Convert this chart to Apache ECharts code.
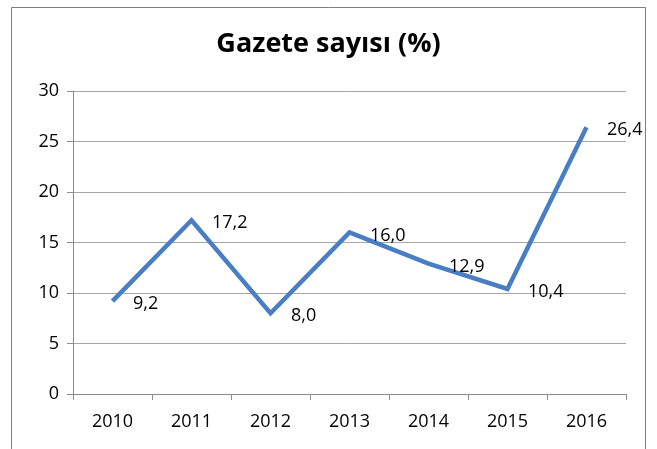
<!DOCTYPE html>
<html>
<head>
<meta charset="utf-8">
<script src="https://cdn.jsdelivr.net/npm/echarts@6/dist/echarts.min.js"></script>
<style>
  html, body { margin: 0; padding: 0; background: #fff; }
  #chart { width: 657px; height: 449px; }
</style>
</head>
<body>
<div id="chart"></div>
<script>
const years = ["2010", "2011", "2012", "2013", "2014", "2015", "2016"];
const values = [9.2, 17.2, 8.0, 16.0, 12.9, 10.4, 26.4];
const chartTitle = "Gazete sayısı (%)";

const chart = echarts.init(document.getElementById("chart"));
const font = "'Open Sans', 'DejaVu Sans', sans-serif";

chart.setOption({
  animation: false,
  textStyle: { fontFamily: font },
  graphic: [{
    type: "rect",
    shape: { x: 11.5, y: 7.5, width: 634, height: 460 },
    style: { fill: "none", stroke: "#7f7f7f", lineWidth: 1 },
    z: -1
  }],
  title: {
    text: chartTitle,
    left: "center",
    top: 26,
    textStyle: { fontFamily: font, fontSize: 27, fontWeight: "bold", color: "#000" }
  },
  grid: { left: 73, right: 31, top: 91, bottom: 55 },
  xAxis: {
    type: "category",
    data: years,
    boundaryGap: true,
    axisLine: { lineStyle: { color: "#8c8c8c", width: 1 } },
    axisTick: { show: true, length: 6, lineStyle: { color: "#8c8c8c" } },
    axisLabel: { fontFamily: font, fontSize: 18, color: "#000", margin: 19 }
  },
  yAxis: {
    type: "value",
    min: 0,
    max: 30,
    interval: 5,
    axisLine: { show: true, lineStyle: { color: "#8c8c8c", width: 1 } },
    axisTick: { show: true, length: 6, lineStyle: { color: "#8c8c8c" } },
    axisLabel: { fontFamily: font, fontSize: 18, color: "#000", margin: 14 },
    splitLine: { lineStyle: { color: "#a6a6a6", width: 1 } }
  },
  series: [{
    type: "line",
    data: values,
    showSymbol: true,
    symbol: "circle",
    symbolSize: 1,
    itemStyle: { color: "rgba(0,0,0,0)" },
    lineStyle: { color: "#4a7ec4", width: 4.5, join: "miter" },
    label: {
      show: true,
      position: "right",
      distance: 20,
      offset: [0, 3],
      fontFamily: font,
      fontSize: 18,
      color: "#000",
      formatter: p => p.value.toFixed(1).replace(".", ",")
    }
  }]
});
</script>
</body>
</html>
